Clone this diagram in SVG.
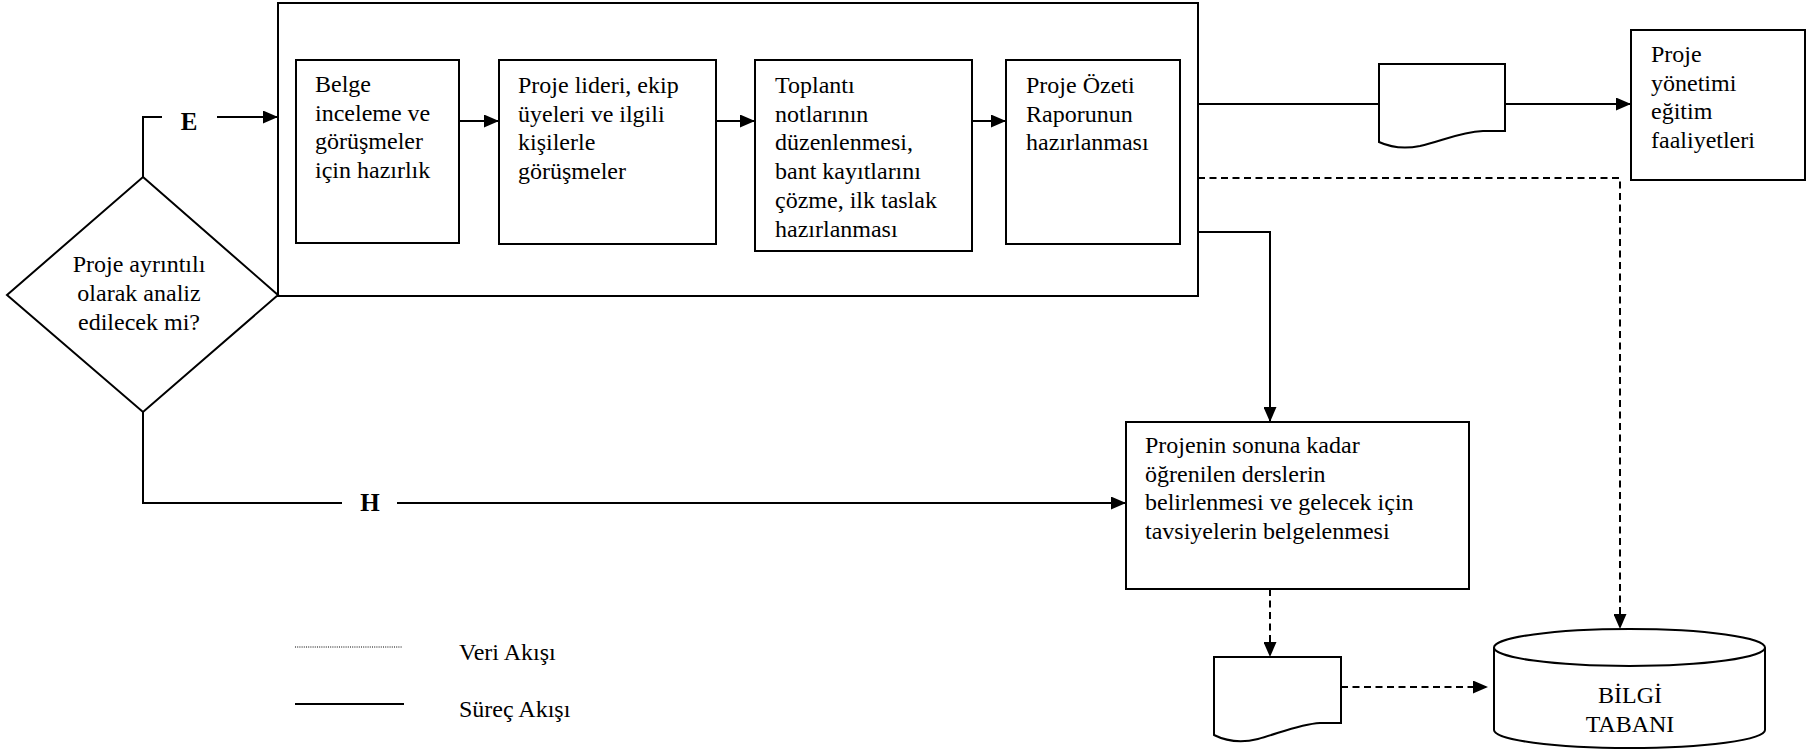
<svg xmlns="http://www.w3.org/2000/svg" width="1807" height="749" viewBox="0 0 1807 749">
<defs>
<style>
.box{fill:#fff;stroke:#000;stroke-width:2}
.ln{fill:none;stroke:#000;stroke-width:2}
.dash{fill:none;stroke:#000;stroke-width:2;stroke-dasharray:7 4.5}
text{font-family:'Liberation Serif',Tinos,'Times New Roman','DejaVu Serif',serif;font-size:24px;fill:#000}
.b{font-size:25px;font-weight:bold}
</style>
<marker id="arr" markerUnits="userSpaceOnUse" markerWidth="15" markerHeight="13" refX="15" refY="6.5" orient="auto">
<path d="M0,0 L15,6.5 L0,13 Z" fill="#000"/>
</marker>
</defs>
<rect width="1807" height="749" fill="#fff"/>

<g id="outer">
<rect class="box" x="278" y="3" width="920" height="293"/>
</g>

<g id="decision">
<polygon class="box" points="143,177 278,295 143,412 7,295"/>
<text font-family="Liberation Serif, serif" text-anchor="middle"><tspan x="139" y="272">Proje ayrıntılı</tspan><tspan x="139" y="301">olarak analiz</tspan><tspan x="139" y="330">edilecek mi?</tspan></text>
</g>

<g id="belge">
<rect class="box" x="296" y="60" width="163" height="183"/>
<text font-family="Liberation Serif, serif"><tspan x="315" y="92">Belge</tspan><tspan x="315" y="120.7">inceleme ve</tspan><tspan x="315" y="149.4">görüşmeler</tspan><tspan x="315" y="178.1">için hazırlık</tspan></text>
</g>

<g id="gorusmeler">
<rect class="box" x="499" y="60" width="217" height="184"/>
<text font-family="Liberation Serif, serif"><tspan x="518" y="93">Proje lideri, ekip</tspan><tspan x="518" y="121.7">üyeleri ve ilgili</tspan><tspan x="518" y="150.4">kişilerle</tspan><tspan x="518" y="179.1">görüşmeler</tspan></text>
</g>

<g id="toplanti">
<rect class="box" x="755" y="60" width="217" height="191"/>
<text font-family="Liberation Serif, serif"><tspan x="775" y="93">Toplantı</tspan><tspan x="775" y="121.7">notlarının</tspan><tspan x="775" y="150.4">düzenlenmesi,</tspan><tspan x="775" y="179.1">bant kayıtlarını</tspan><tspan x="775" y="207.8">çözme, ilk taslak</tspan><tspan x="775" y="236.5">hazırlanması</tspan></text>
</g>

<g id="ozet">
<rect class="box" x="1006" y="60" width="174" height="184"/>
<text font-family="Liberation Serif, serif"><tspan x="1026" y="93">Proje Özeti</tspan><tspan x="1026" y="121.7">Raporunun</tspan><tspan x="1026" y="150.4">hazırlanması</tspan></text>
</g>

<g id="doc1">
<path class="box" d="M1379,64 H1505 V131 L1483,131 C1460,132 1442,141 1420,146 C1405,149 1392,148 1379,142 Z"/>
</g>

<g id="egitim">
<rect class="box" x="1631" y="30" width="174" height="150"/>
<text font-family="Liberation Serif, serif"><tspan x="1651" y="62">Proje</tspan><tspan x="1651" y="90.7">yönetimi</tspan><tspan x="1651" y="119.4">eğitim</tspan><tspan x="1651" y="148.1">faaliyetleri</tspan></text>
</g>

<g id="dersler">
<rect class="box" x="1126" y="422" width="343" height="167"/>
<text font-family="Liberation Serif, serif"><tspan x="1145" y="453">Projenin sonuna kadar</tspan><tspan x="1145" y="481.7">öğrenilen derslerin</tspan><tspan x="1145" y="510.4">belirlenmesi ve gelecek için</tspan><tspan x="1145" y="539.1">tavsiyelerin belgelenmesi</tspan></text>
</g>

<g id="doc2">
<path class="box" d="M1214,657 H1341 V723 L1320,723 C1300,724 1280,733 1258,739 C1242,743 1228,742 1214,735 Z"/>
</g>

<g id="bilgi">
<path class="box" d="M1494,647.5 V730 A135.5,18 0 0 0 1765,730 V647.5"/>
<ellipse class="box" cx="1629.5" cy="647.5" rx="135.5" ry="18.5"/>
<text font-family="Liberation Serif, serif" text-anchor="middle"><tspan x="1630" y="703">BİLGİ</tspan><tspan x="1630" y="732">TABANI</tspan></text>
</g>

<g id="connectors">
<polyline class="ln" points="143,177 143,117 162,117"/>
<line class="ln" x1="217" y1="117" x2="278" y2="117" marker-end="url(#arr)"/>
<text class="b" font-family="Liberation Serif, serif" x="189" y="130" text-anchor="middle">E</text>
<line class="ln" x1="459" y1="121" x2="499" y2="121" marker-end="url(#arr)"/>
<line class="ln" x1="716" y1="121" x2="755" y2="121" marker-end="url(#arr)"/>
<line class="ln" x1="972" y1="121" x2="1006" y2="121" marker-end="url(#arr)"/>
<line class="ln" x1="1198" y1="104" x2="1379" y2="104"/>
<line class="ln" x1="1505" y1="104" x2="1631" y2="104" marker-end="url(#arr)"/>
<polyline class="dash" points="1198,178 1620,178 1620,629" marker-end="url(#arr)"/>
<polyline class="ln" points="1198,232 1270,232 1270,422" marker-end="url(#arr)"/>
<polyline class="ln" points="143,412 143,503 342,503"/>
<line class="ln" x1="397" y1="503" x2="1126" y2="503" marker-end="url(#arr)"/>
<text class="b" font-family="Liberation Serif, serif" x="370" y="511" text-anchor="middle">H</text>
<line class="dash" x1="1270" y1="589" x2="1270" y2="657" marker-end="url(#arr)"/>
<line class="dash" x1="1341" y1="687" x2="1488" y2="687" marker-end="url(#arr)"/>
</g>

<g id="legend">
<line x1="295" y1="647" x2="402" y2="647" stroke="#000" stroke-width="1" stroke-dasharray="1 1.2"/>
<text font-family="Liberation Serif, serif" x="459" y="660">Veri Akışı</text>
<line x1="295" y1="704" x2="404" y2="704" stroke="#000" stroke-width="2"/>
<text font-family="Liberation Serif, serif" x="459" y="717">Süreç Akışı</text>
</g>
</svg>
